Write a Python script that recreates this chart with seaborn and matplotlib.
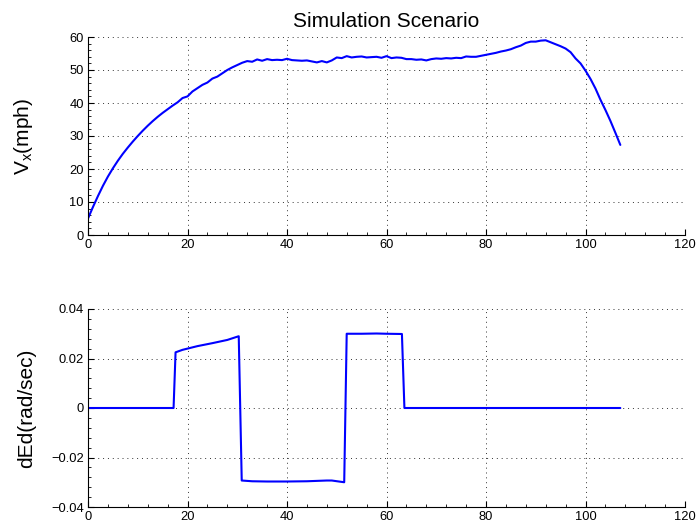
import matplotlib
matplotlib.use("Agg")
import matplotlib.pyplot as plt
import seaborn as sns
import pandas as pd
from matplotlib.ticker import MultipleLocator

# ---- data ----
t_vx = [0, 1, 2, 3, 4, 5, 6, 7, 8, 9, 10, 11, 12, 13, 14, 15, 16, 17, 18, 19,
        20, 21, 22, 23, 24, 25, 26, 27, 28, 29, 30, 31, 32, 33, 34, 35, 36, 37,
        38, 39, 40, 41, 42, 43, 44, 45, 46, 47, 48, 49, 50, 51, 52, 53, 54, 55,
        56, 57, 58, 59, 60, 61, 62, 63, 64, 65, 66, 67, 68, 69, 70, 71, 72, 73,
        74, 75, 76, 77, 78, 79, 80, 81, 82, 83, 84, 85, 86, 87, 88, 89, 90, 91,
        92, 93, 94, 95, 96, 97, 98, 99, 100, 101, 102, 103, 104, 105, 106, 107]
vx_mph = [5.0, 8.5, 11.8, 14.9, 17.7, 20.2, 22.5, 24.6, 26.5, 28.3, 30.0, 31.6,
          33.1, 34.5, 35.8, 37.0, 38.1, 39.2, 40.2, 41.5, 42.0, 43.5, 44.5,
          45.5, 46.2, 47.4, 48.0, 49.0, 50.0, 50.8, 51.5, 52.2, 52.7, 52.5,
          53.2, 52.8, 53.3, 53.0, 53.1, 53.0, 53.4, 53.0, 52.9, 52.8, 52.9,
          52.6, 52.3, 52.7, 52.3, 52.9, 53.8, 53.6, 54.2, 53.8, 54.0, 54.1,
          53.8, 53.9, 54.0, 53.7, 54.2, 53.6, 53.8, 53.7, 53.3, 53.3, 53.1,
          53.2, 52.9, 53.3, 53.5, 53.4, 53.6, 53.5, 53.7, 53.6, 54.1, 54.0,
          54.0, 54.3, 54.6, 54.9, 55.2, 55.6, 55.9, 56.3, 56.9, 57.4, 58.2,
          58.6, 58.6, 58.9, 59.0, 58.4, 57.8, 57.2, 56.5, 55.4, 53.5, 52.0,
          49.8, 47.3, 44.4, 41.0, 37.9, 34.6, 31.0, 27.3]

t_ded = [0, 17.2, 17.6, 19, 22, 25, 28, 30.3, 30.9, 33, 36, 40, 44, 48, 49,
         51.5, 52.0, 55, 58, 60, 63.1, 63.6, 107]
ded = [0, 0, 0.0225, 0.0235, 0.0250, 0.0262, 0.0275, 0.0290, -0.0293, -0.0296,
       -0.0297, -0.0297, -0.0296, -0.0293, -0.0293, -0.0300, 0.0300, 0.0300,
       0.0301, 0.0300, 0.0299, 0, 0]

x_ticks = [0, 20, 40, 60, 80, 100, 120]
y1_ticks = [0, 10, 20, 30, 40, 50, 60]
y2_ticks = [-0.04, -0.02, 0, 0.02, 0.04]
y2_labels = ["\u22120.04", "\u22120.02", "0", "0.02", "0.04"]

title = "Simulation Scenario"
ylabel1 = r"$\mathregular{V_x}$(mph)"
ylabel2 = "dEd(rad/sec)"

# ---- style ----
sns.set_theme(style="white")
plt.rcParams["font.family"] = ["Liberation Sans", "DejaVu Sans"]
plt.rcParams["mathtext.fontset"] = "custom"
plt.rcParams["mathtext.rm"] = "Liberation Sans"
plt.rcParams["text.color"] = "black"
plt.rcParams["axes.labelcolor"] = "black"

fig = plt.figure(figsize=(6.97, 5.27), dpi=100)
W, H = 697, 527
ax1 = fig.add_axes([88 / W, 1 - 235 / H, 597 / W, 198 / H])
ax2 = fig.add_axes([88 / W, 1 - 507 / H, 597 / W, 198 / H])

df1 = pd.DataFrame({"t": t_vx, "v": vx_mph})
df2 = pd.DataFrame({"t": t_ded, "d": ded})
sns.lineplot(data=df1, x="t", y="v", ax=ax1, color="#0000ff", linewidth=1.5,
             estimator=None, sort=False)
sns.lineplot(data=df2, x="t", y="d", ax=ax2, color="#0000ff", linewidth=1.5,
             estimator=None, sort=False)

for ax in (ax1, ax2):
    ax.set_xlim(0, 120)
    ax.set_xticks(x_ticks)
    ax.set_xlabel("")
    ax.set_facecolor("white")
    for s in ("top", "right"):
        ax.spines[s].set_visible(False)
    for s in ("left", "bottom"):
        ax.spines[s].set_color("black")
        ax.spines[s].set_linewidth(0.8)
    ax.grid(True, which="major", color="#333333", linestyle=(0, (1, 4)),
            linewidth=0.7)
    ax.tick_params(which="major", direction="in", length=4.5, width=0.8,
                   colors="black", labelsize=9.3, pad=3,
                   bottom=True, left=True)
    ax.tick_params(which="minor", direction="in", length=2, width=0.6,
                   colors="black", bottom=True, left=True)
    ax.xaxis.set_minor_locator(MultipleLocator(4))

ax1.set_ylim(0, 60)
ax1.set_yticks(y1_ticks)
ax1.yaxis.set_minor_locator(MultipleLocator(2))
ax1.set_ylabel(ylabel1, fontsize=15, color="black")
ax1.yaxis.set_label_coords(-0.088, 0.5)
ax1.set_title(title, fontsize=15, pad=7, color="black")

ax2.set_ylim(-0.04, 0.04)
ax2.set_yticks(y2_ticks)
ax2.set_yticklabels(y2_labels)
ax2.yaxis.set_minor_locator(MultipleLocator(0.004))
ax2.set_ylabel(ylabel2, fontsize=15, color="black")
ax2.yaxis.set_label_coords(-0.087, 0.5)

fig.savefig("out.png", dpi=100, facecolor="white")
